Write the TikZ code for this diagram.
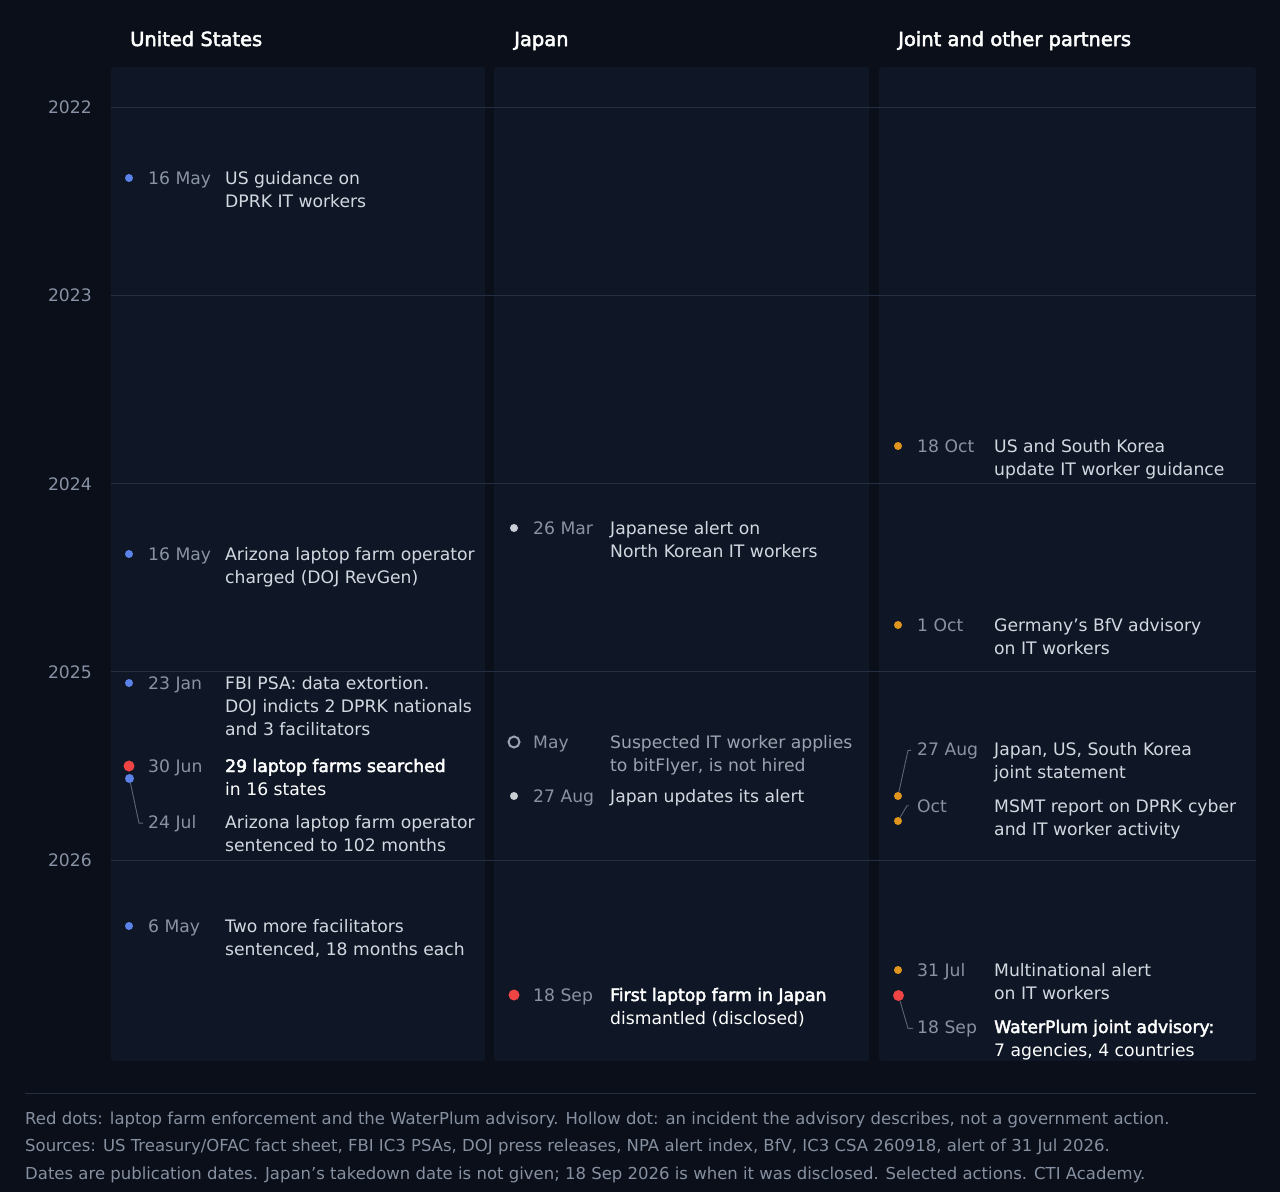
\documentclass[tikz,border=0pt]{standalone}
\usepackage{fontspec}
\setmainfont{DejaVu Sans}
\newfontfamily\semib{DejaVu Sans}[FakeBold=2.6]
\usetikzlibrary{positioning}
\definecolor{bgc}{HTML}{0A0F1A}
\definecolor{panelc}{HTML}{0F1726}
\definecolor{gridc}{HTML}{243041}
\definecolor{yearc}{HTML}{8892A4}
\definecolor{datec}{HTML}{8A93A3}
\definecolor{descc}{HTML}{D3D8E0}
\definecolor{dimc}{HTML}{9BA3B0}
\definecolor{usblue}{HTML}{5B82E8}
\definecolor{alertred}{HTML}{EF4444}
\definecolor{jointor}{HTML}{E0961E}
\definecolor{jpgrey}{HTML}{C9CDD4}
\definecolor{leadc}{HTML}{5D6675}
\definecolor{footc}{HTML}{8690A0}
\tikzset{dot/.style={circle,inner sep=0pt,minimum size=8pt},
	 usdot/.style={dot,fill=usblue},
	 jpdot/.style={dot,fill=jpgrey},
	 jtdot/.style={dot,fill=jointor},
	 reddot/.style={dot,fill=alertred,minimum size=11pt},
	 hollow/.style={circle,draw=dimc,line width=2pt,inner sep=0pt,minimum size=11pt},
	 datel/.style={anchor=base west,inner sep=0pt,text=datec,font=\fontsize{17.2}{23}\selectfont},
	 desc/.style={anchor=base west,inner sep=0pt,align=left,text=descc,font=\fontsize{17.2}{23}\selectfont},
	 desc2/.style={desc,yshift=-23pt},
	 desc3/.style={desc,yshift=-46pt},
	 head/.style={anchor=base west,inner sep=0pt,text=white,font=\fontsize{19.5}{24}\semib},
	 yearl/.style={anchor=base east,inner sep=0pt,text=yearc,font=\fontsize{17.2}{23}\selectfont},
	 foot/.style={anchor=base west,inner sep=0pt,text=footc,font=\fontsize{16.5}{20}\selectfont},
	 leader/.style={draw=leadc,line width=0.9pt},
	 panel/.style={fill=panelc,rounded corners=3pt}
	 }

\begin{document}
\begin{tikzpicture}[x=1pt,y=-1pt]
	\fill[bgc] (0,0) rectangle (1280,1192);
	\useasboundingbox (0,0) rectangle (1280,1192);
	% column panels
	\fill[panel] (111,67) rectangle (485,1061);
	\fill[panel] (494,67) rectangle (869,1061);
	\fill[panel] (879,67) rectangle (1256,1061);
	% headers
	\node[head] (hus) at (130,46) {United States};
	\node[head] (hjp) at (514,46) {Japan};
	\node[head] (hjt) at (898,46) {Joint and other partners};
	% years
	\foreach \yr [count=\i from 0] in {2022,2023,2024,2025,2026}{
		\node[yearl] (y\yr) at (92,113.5+188.25*\i) {\yr};
		\draw[gridc,line width=1pt] (111,107+188.25*\i) -- (1256,107+188.25*\i);
	}

	% United States
	\node[usdot] (u1) at (129,178) {};
	\node[datel] (du1) at (148,184) {16 May};
	\node[desc2] (tu1) at (225,184) {US guidance on\\DPRK IT workers};
	\node[usdot] (u2) at (129,554) {};
	\node[datel] (du2) at (148,560) {16 May};
	\node[desc2] (tu2) at (225,560) {Arizona laptop farm operator\\charged (DOJ RevGen)};
	\node[usdot] (u3) at (129,683) {};
	\node[datel] (du3) at (148,689) {23 Jan};
	\node[desc3] (tu3) at (225,689) {FBI PSA: data extortion.\\DOJ indicts 2 DPRK nationals\\and 3 facilitators};
	\node[reddot] (u4) at (129,766) {};
	\node[datel] (du4) at (148,772) {30 Jun};
	\node[desc2,text=white] (tu4) at (225,772) {{\semib 29 laptop farms searched}\\in 16 states};
	\node[usdot,minimum size=9pt] (u5) at (129.5,778.5) {};
	\node[datel] (du5) at (148,828) {24 Jul};
	\node[desc2] (tu5) at (225,828) {Arizona laptop farm operator\\sentenced to 102 months};
	\draw[leader] (u5) -- ([xshift=-9pt]du5.west) -- ([xshift=-5pt]du5.west);
	\node[usdot] (u6) at (129,926) {};
	\node[datel] (du6) at (148,932) {6 May};
	\node[desc2] (tu6) at (225,932) {Two more facilitators\\sentenced, 18 months each};

	% Japan
	\node[jpdot] (j1) at (514,528) {};
	\node[datel] (dj1) at (533,534) {26 Mar};
	\node[desc2] (tj1) at (610,534) {Japanese alert on\\North Korean IT workers};
	\node[hollow] (j2) at (514,742) {};
	\node[datel] (dj2) at (533,748) {May};
	\node[desc2,text=dimc] (tj2) at (610,748) {Suspected IT worker applies\\to bitFlyer, is not hired};
	\node[jpdot] (j3) at (514,796) {};
	\node[datel] (dj3) at (533,802) {27 Aug};
	\node[desc] (tj3) at (610,802) {Japan updates its alert};
	\node[reddot] (j4) at (514,995) {};
	\node[datel] (dj4) at (533,1001) {18 Sep};
	\node[desc2,text=white] (tj4) at (610,1001) {{\semib First laptop farm in Japan}\\dismantled (disclosed)};

	% Joint and other partners
	\node[jtdot] (p1) at (898,446) {};
	\node[datel] (dp1) at (917,452) {18 Oct};
	\node[desc2] (tp1) at (994,452) {US and South Korea\\update IT worker guidance};
	\node[jtdot] (p2) at (898,625) {};
	\node[datel] (dp2) at (917,631) {1 Oct};
	\node[desc2] (tp2) at (994,631) {Germany’s BfV advisory\\on IT workers};
	\node[jtdot] (p3) at (898,796) {};
	\node[datel] (dp3) at (917,755) {27 Aug};
	\node[desc2] (tp3) at (994,755) {Japan, US, South Korea\\joint statement};
	\draw[leader] (p3) -- ([xshift=-9pt]dp3.west) -- ([xshift=-6pt]dp3.west);
	\node[jtdot] (p4) at (898,821) {};
	\node[datel] (dp4) at (917,812) {Oct};
	\node[desc2] (tp4) at (994,812) {MSMT report on DPRK cyber\\and IT worker activity};
	\draw[leader] (p4) -- ([xshift=-10pt]dp4.west) -- ([xshift=-8pt]dp4.west);
	\node[jtdot] (p5) at (898,970) {};
	\node[datel] (dp5) at (917,976) {31 Jul};
	\node[desc2] (tp5) at (994,976) {Multinational alert\\on IT workers};
	\node[reddot] (p6) at (898.5,995.5) {};
	\node[datel] (dp6) at (917,1033) {18 Sep};
	\node[desc2,text=white] (tp6) at (994,1033) {{\semib WaterPlum joint advisory:}\\7 agencies, 4 countries};
	\draw[leader] (p6) -- ([xshift=-9pt]dp6.west) -- ([xshift=-4pt]dp6.west);

	% footer
	\draw[gridc,line width=1pt] (25,1093) -- (1256,1093);
	\node[foot] (f1) at (25,1124) {Red dots: laptop farm enforcement and the WaterPlum advisory. Hollow dot: an incident the advisory describes, not a government action.};
	\node[foot] (f2) at (25,1151) {Sources: US Treasury/OFAC fact sheet, FBI IC3 PSAs, DOJ press releases, NPA alert index, BfV, IC3 CSA 260918, alert of 31 Jul 2026.};
	\node[foot] (f3) at (25,1179) {Dates are publication dates. Japan’s takedown date is not given; 18 Sep 2026 is when it was disclosed. Selected actions. CTI Academy.};
\end{tikzpicture}
\end{document}
